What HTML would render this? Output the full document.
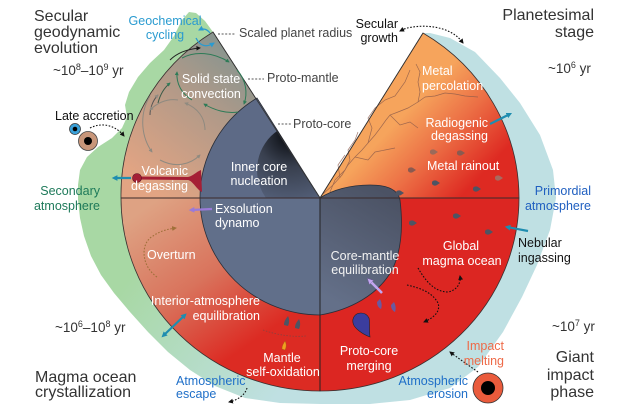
<!DOCTYPE html>
<html><head><meta charset="utf-8"><style>
html,body{margin:0;padding:0;background:#fff;}
svg{display:block;}
text{font-family:"Liberation Sans",Arial,sans-serif;}
.t{font-size:16px;fill:#333;}
.l{font-size:12.5px;}
.w{fill:#fff;}
</style></head><body>
<svg width="625" height="414" viewBox="0 0 625 414" xmlns="http://www.w3.org/2000/svg">
<defs>
<linearGradient id="gAtm" gradientUnits="userSpaceOnUse" x1="120" y1="290" x2="270" y2="405">
 <stop offset="0" stop-color="#a8d8a4"/><stop offset="1" stop-color="#bfe0e2"/>
</linearGradient>
<linearGradient id="gUL" gradientUnits="userSpaceOnUse" x1="235" y1="55" x2="140" y2="180">
 <stop offset="0" stop-color="#8a958f"/><stop offset="0.4" stop-color="#b39a88"/><stop offset="1" stop-color="#e2a483"/>
</linearGradient>
<linearGradient id="gLL" gradientUnits="userSpaceOnUse" x1="150" y1="205" x2="265" y2="370">
 <stop offset="0" stop-color="#dea283"/><stop offset="0.45" stop-color="#d9735c"/><stop offset="0.85" stop-color="#dc2b23"/>
</linearGradient>
<linearGradient id="gUR" gradientUnits="userSpaceOnUse" x1="395" y1="95" x2="490" y2="185">
 <stop offset="0.15" stop-color="#f6a45c"/><stop offset="0.5" stop-color="#ec6f45"/><stop offset="0.9" stop-color="#de2a22"/>
</linearGradient>
<radialGradient id="gIC" gradientUnits="userSpaceOnUse" cx="290" cy="135" r="72">
 <stop offset="0" stop-color="#06080c"/><stop offset="0.45" stop-color="#39404f"/><stop offset="1" stop-color="#56627c"/>
</radialGradient>
<linearGradient id="gPC" gradientUnits="userSpaceOnUse" x1="390" y1="195" x2="330" y2="300">
 <stop offset="0" stop-color="#4b5264"/><stop offset="1" stop-color="#647089"/>
</linearGradient>
<clipPath id="cUL"><path d="M320,198 L257,98 A120,117 0 0,0 200,198 Z"/></clipPath>
<marker id="ak" viewBox="0 0 10 10" refX="8" refY="5" markerWidth="4.5" markerHeight="4.5" orient="auto"><path d="M0,0 L10,5 L0,10 z" fill="#111"/></marker>
<marker id="akb" viewBox="0 0 10 10" refX="8" refY="5" markerWidth="4.5" markerHeight="4.5" orient="auto"><path d="M0,0 L10,5 L0,10 z" fill="#a0703a"/></marker>
<marker id="akg" viewBox="0 0 10 10" refX="8" refY="5" markerWidth="4" markerHeight="4" orient="auto"><path d="M0,0 L10,5 L0,10 z" fill="#2e7b57"/></marker>
<marker id="akgr" viewBox="0 0 10 10" refX="8" refY="5" markerWidth="4" markerHeight="4" orient="auto"><path d="M0,0 L10,5 L0,10 z" fill="#8f8a80"/></marker>
<marker id="akc" viewBox="0 0 10 10" refX="8" refY="5" markerWidth="4" markerHeight="4" orient="auto"><path d="M0,0 L10,5 L0,10 z" fill="#2a9bd0"/></marker>
<marker id="at" viewBox="0 0 10 10" refX="6" refY="5" markerWidth="2.6" markerHeight="2.6" orient="auto"><path d="M0,0 L10,5 L0,10 z" fill="#1e8db0"/></marker>
<marker id="ats" viewBox="0 0 10 10" refX="4" refY="5" markerWidth="2.6" markerHeight="2.6" orient="auto-start-reverse"><path d="M0,0 L10,5 L0,10 z" fill="#1e8db0"/></marker>
<marker id="ap" viewBox="0 0 10 10" refX="6" refY="5" markerWidth="2.6" markerHeight="2.6" orient="auto"><path d="M0,0 L10,5 L0,10 z" fill="#9a7ad8"/></marker>
<marker id="ap2" viewBox="0 0 10 10" refX="6" refY="5" markerWidth="2.4" markerHeight="2.4" orient="auto"><path d="M0,0 L10,5 L0,10 z" fill="#c2a6f0" stroke="#6a5a90" stroke-width="0.8"/></marker>
<path id="drop" d="M-3,0 A3,2.3 0 0,1 2,-2 L5,0 L2,2 A3,2.3 0 0,1 -3,0 Z"/>
</defs>

<!-- atmospheres -->
<polygon fill="url(#gAtm)" points="213,32 205,21 196,13 189,12 182,20 174,36 164,50 150,63 138,77 129,92 125,105 127,117 122,128 112,138 98,147 87,157 80,170 78,185 78,200 80,218 84,236 91,256 101,275 114,293 130,312 148,332 168,352 190,370 215,386 245,398 280,403 320,404 320,198"/>
<polygon fill="#bfe0e3" points="320,404 370,404 410,400 450,388 478,367 503,332 522,297 537,265 550,230 556,198 553,170 540,135 520,103 500,78 475,52 450,38 430,33 423,33 320,198"/>

<!-- mantle sectors -->
<path d="M320,198 L213,32 A199,193 0 0,0 121,198 Z" fill="url(#gUL)" stroke="#3a3030" stroke-width="0.8"/>
<path d="M320,198 L423,33 A199,193 0 0,1 519,198 Z" fill="url(#gUR)" stroke="#3a3030" stroke-width="0.8"/>
<path d="M320,198 L121,198 A199,193 0 0,0 320,391 Z" fill="url(#gLL)" stroke="#3a3030" stroke-width="0.8"/>
<path d="M320,198 L519,198 A199,193 0 0,1 320,391 Z" fill="#dc2622" stroke="#3a3030" stroke-width="0.8"/>

<!-- veins -->
<g fill="none" stroke="#8b5a4a" stroke-width="0.7" opacity="0.8">
<path d="M323,194 L333,185 L342,175 L348,165 L355,157 L362,150 L368,143 L375,135 L381,127 L386,120 L390,115 L398,112 L408,108 L418,102 L425,97"/>
<path d="M418,102 L420,92 L418,82 L420,72 L416,64"/>
<path d="M425,97 L435,96 L445,93 L455,94 L465,96 L478,97"/>
<path d="M330,192 L335,180 L345,170 L350,160 L348,150 L355,140 L358,132"/>
<path d="M355,157 L368,160 L375,152 L385,150 L395,148"/>
<path d="M368,143 L372,128 L368,118 L375,108 L385,100 L395,96 L405,82 L410,70"/>
<path d="M390,115 L400,125 L410,122 L418,128"/>
<path d="M340,178 L338,165 L345,155"/>
</g>

<!-- cores -->
<path d="M320,198 L257,98 A120,117 0 0,0 200,198 Z" fill="#5d6a86" stroke="#2a2e38" stroke-width="0.8"/>
<circle cx="305" cy="170" r="48" fill="url(#gIC)" clip-path="url(#cUL)"/>
<path d="M320,198 L200,198 A120,117 0 0,0 320,315 Z" fill="#616f8a" stroke="#2a2e38" stroke-width="0.8"/>
<path d="M320,198 C332,190 350,185 370,185 C388,185 398,190 400,200 C403,225 402,250 392,270 C378,295 350,310 320,315 Z" fill="url(#gPC)" stroke="#2a2e38" stroke-width="0.8"/>
<line x1="121" y1="198" x2="519" y2="198" stroke="#3a2a2a" stroke-width="0.9"/>
<line x1="320" y1="198" x2="320" y2="391" stroke="#222" stroke-width="0.9"/>
<line x1="320" y1="198" x2="213" y2="32" stroke="#333" stroke-width="0.8"/>
<line x1="320" y1="198" x2="423" y2="33" stroke="#333" stroke-width="0.8"/>

<!-- convection -->
<g fill="none" stroke-width="1">
<path d="M182,58 C195,51 213,52 229,62" stroke="#2e7b57" marker-end="url(#akg)"/>
<path d="M237,70 C246,80 248,93 244,104" stroke="#2e7b57" marker-end="url(#akg)"/>
<path d="M238,112 C227,114 214,110 204,104" stroke="#2e7b57" marker-end="url(#akg)"/>
<path d="M192,100 C182,94 176,84 177,72" stroke="#2e7b57" marker-end="url(#akg)"/>
<path d="M170,60 C178,52 188,49 200,48" stroke="#222" marker-end="url(#ak)"/>
<path d="M158,103 C160,95 164,88 170,83" stroke="#3a5a48" marker-end="url(#akg)"/>
<path d="M150,115 C150,108 153,100 158,95" stroke="#555" marker-end="url(#akgr)"/>
<path d="M150,96 C140,112 140,135 152,152" stroke="#8f8a80" marker-end="url(#akgr)"/>
<path d="M160,160 C175,168 190,165 200,155" stroke="#8f8a80" marker-end="url(#akgr)"/>
<path d="M205,130 C205,118 198,108 185,103" stroke="#8f8a80" marker-end="url(#akgr)"/>
<path d="M178,100 C166,98 156,104 150,110" stroke="#8f8a80" marker-end="url(#akgr)"/>
</g>

<!-- volcanic conduit -->
<path d="M137,176.5 L188,177 C193,176 196,172 201,170 L202,192 C197,190 193,181 188,180 L137,179.5 Z" fill="#a51f35"/>
<circle cx="137" cy="178" r="4.5" fill="#a51f35" stroke="#5a1020" stroke-width="0.6"/>

<!-- droplets -->
<g fill="#4e5463">
<use href="#drop" x="433" y="152" fill="#9a6a5a"/>
<use href="#drop" x="460" y="153" fill="#8a5a50"/>
<use href="#drop" x="411" y="170" fill="#8a5a50"/>
<use href="#drop" x="435" y="183"/>
<use href="#drop" x="476" y="189"/>
<use href="#drop" x="498" y="178" fill="#a86a60"/>
<use href="#drop" x="399" y="193"/>
<use href="#drop" x="412" y="223"/>
<use href="#drop" x="456" y="216"/>
<use href="#drop" x="488" y="232"/>
</g>
<path d="M284,325 C284,320 287,318 288,316 C289,318 290,322 288,326 Z" fill="#4e5463"/>
<path d="M295,328 C295,323 298,321 299,319 C300,321 301,325 299,329 Z" fill="#4e5463"/>
<path d="M282,349 C282,345 284,343 285,341 C286,343 287,346 285,350 Z" fill="#f0a020" stroke="#a06010" stroke-width="0.4"/>
<path d="M377,302 C377,306 379,308 381,309 C382,306 382,303 380,299 Z" fill="#6a5aa0"/>
<path d="M391,305 C391,309 393,311 395,312 C396,309 396,306 394,302 Z" fill="#6a5aa0"/>
<path d="M361,313 C355,313 352,318 353,323 C354,328 362,334 370,337 C369,330 370,322 369,318 C367,314 364,313 361,313 Z" fill="#3b3d9e" stroke="#222" stroke-width="0.6"/>

<!-- teal / purple arrows -->
<line x1="131" y1="178" x2="114" y2="178" stroke="#1e8db0" stroke-width="2.2" marker-end="url(#at)"/>
<line x1="490" y1="124" x2="510" y2="114" stroke="#1e8db0" stroke-width="2.2" marker-end="url(#at)"/>
<line x1="528" y1="231" x2="507" y2="227" stroke="#1e8db0" stroke-width="2.2" marker-end="url(#at)"/>
<line x1="164" y1="335" x2="185" y2="315" stroke="#1e8db0" stroke-width="2.2" marker-start="url(#ats)" marker-end="url(#at)"/>
<line x1="212" y1="209" x2="191" y2="210" stroke="#9a7ad8" stroke-width="2.2" marker-end="url(#ap)"/>
<line x1="382" y1="293" x2="369" y2="280" stroke="#c2a6f0" stroke-width="2.6" marker-end="url(#ap2)"/>

<!-- dotted arrows -->
<g fill="none" stroke="#111" stroke-width="1.1" stroke-dasharray="1.6 1.6">
<path d="M90,128 C104,121 117,127 124,136" marker-end="url(#ak)"/>
<path d="M404,29 C420,24 440,26 452,33 C457,36 460,39 463,43" marker-end="url(#ak)"/>
<path d="M418,268 C425,280 434,292 448,292 C458,290 461,282 460,276" marker-end="url(#ak)"/>
<path d="M407,285 C420,288 432,292 438,303 C441,312 433,318 424,322" marker-end="url(#ak)"/>
<path d="M247,388 C245,395 238,400 229,402" marker-end="url(#ak)"/>
<path d="M478,372 C468,365 458,358 450,352" marker-end="url(#ak)"/>
</g>
<path d="M404,29 L400,31" stroke="#111" stroke-width="1.1" marker-end="url(#ak)"/>
<path d="M157,277 C141,266 140,243 153,236 C160,231 168,229 176,228" fill="none" stroke="#a0703a" stroke-width="1.1" stroke-dasharray="1.6 1.6" marker-end="url(#akb)"/>
<path d="M263,330 C280,336 295,337 306,336" fill="none" stroke="#6a4a4a" stroke-width="0.8" stroke-dasharray="1.5 1.5" opacity="0.7"/>

<!-- geochemical cycling arrows -->
<path d="M210,33 C207,29 203,28 199,30" fill="none" stroke="#2a9bd0" stroke-width="1.3" marker-end="url(#akc)"/>
<path d="M196,38 C200,46 206,48 214,43" fill="none" stroke="#2a9bd0" stroke-width="1.3" marker-end="url(#akc)"/>

<!-- dotted connectors -->
<g stroke="#555" stroke-width="1" stroke-dasharray="2 1.6">
<line x1="218" y1="34" x2="236" y2="34"/>
<line x1="248" y1="79" x2="264" y2="79"/>
<line x1="278" y1="124" x2="291" y2="124"/>
</g>

<!-- impactors -->
<circle cx="75" cy="129" r="5.5" fill="#3aa0d8" stroke="#333" stroke-width="0.7"/>
<circle cx="75" cy="129" r="2.3" fill="#000"/>
<circle cx="88" cy="141" r="9.5" fill="#c8967a" stroke="#444" stroke-width="0.8"/>
<circle cx="88" cy="141" r="4" fill="#000"/>
<circle cx="488" cy="388" r="15" fill="#ea5b3c" stroke="#333" stroke-width="0.8"/>
<circle cx="488" cy="388" r="7" fill="#000"/>

<!-- titles -->
<text class="t" x="34" y="21">Secular</text>
<text class="t" x="34" y="37">geodynamic</text>
<text class="t" x="34" y="53">evolution</text>
<text x="53" y="75" font-size="13.5" fill="#333">~10<tspan dy="-5" font-size="9">8</tspan><tspan dy="5">–10</tspan><tspan dy="-5" font-size="9">9</tspan><tspan dy="5"> yr</tspan></text>
<text class="t" x="594" y="20" text-anchor="end">Planetesimal</text>
<text class="t" x="594" y="37" text-anchor="end">stage</text>
<text x="548" y="73" font-size="13.5" fill="#333">~10<tspan dy="-5" font-size="9">6</tspan><tspan dy="5"> yr</tspan></text>
<text class="t" x="35" y="382">Magma ocean</text>
<text class="t" x="35" y="397">crystallization</text>
<text x="55" y="332" font-size="13.5" fill="#333">~10<tspan dy="-5" font-size="9">6</tspan><tspan dy="5">–10</tspan><tspan dy="-5" font-size="9">8</tspan><tspan dy="5"> yr</tspan></text>
<text class="t" x="594" y="362" text-anchor="end">Giant</text>
<text class="t" x="594" y="380" text-anchor="end">impact</text>
<text class="t" x="594" y="397" text-anchor="end">phase</text>
<text x="552" y="331" font-size="13.5" fill="#333">~10<tspan dy="-5" font-size="9">7</tspan><tspan dy="5"> yr</tspan></text>

<!-- labels -->
<g class="l">
<text x="165" y="25" text-anchor="middle" fill="#2a9bd0" font-size="12.5">Geochemical</text>
<text x="165" y="39" text-anchor="middle" fill="#2a9bd0" font-size="12.5">cycling</text>
<text x="239" y="37" fill="#444" font-size="12.5">Scaled planet radius</text>
<text x="267" y="82" fill="#444" font-size="12.5">Proto-mantle</text>
<text x="293" y="128" fill="#444" font-size="12.5">Proto-core</text>
<text x="398" y="28" text-anchor="end" fill="#111" font-size="12.5">Secular</text>
<text x="398" y="42" text-anchor="end" fill="#111" font-size="12.5">growth</text>
<text x="211" y="83" text-anchor="middle" class="w" font-size="12.5">Solid state</text>
<text x="211" y="98" text-anchor="middle" class="w" font-size="12.5">convection</text>
<text x="55" y="120" fill="#111" font-size="12.5">Late accretion</text>
<text x="188" y="175" text-anchor="end" class="w" font-size="12.5">Volcanic</text>
<text x="188" y="190" text-anchor="end" class="w" font-size="12.5">degassing</text>
<text x="100" y="195" text-anchor="end" fill="#1e7a5a" font-size="12.5">Secondary</text>
<text x="100" y="210" text-anchor="end" fill="#1e7a5a" font-size="12.5">atmosphere</text>
<text x="259" y="171" text-anchor="middle" class="w" font-size="12.5">Inner core</text>
<text x="259" y="185" text-anchor="middle" class="w" font-size="12.5">nucleation</text>
<text x="215" y="213" class="w" font-size="12.5">Exsolution</text>
<text x="215" y="227" class="w" font-size="12.5">dynamo</text>
<text x="147" y="259" class="w" font-size="12.5">Overturn</text>
<text x="260" y="305" text-anchor="end" class="w" font-size="12.5">Interior-atmosphere</text>
<text x="260" y="320" text-anchor="end" class="w" font-size="12.5">equilibration</text>
<text x="282" y="362" text-anchor="middle" class="w" font-size="12.5">Mantle</text>
<text x="283" y="376" text-anchor="middle" class="w" font-size="12.5">self-oxidation</text>
<text x="176" y="385" fill="#1f6fc8" font-size="12.5">Atmospheric</text>
<text x="176" y="398" fill="#1f6fc8" font-size="12.5">escape</text>
<text x="369" y="355" text-anchor="middle" class="w" font-size="12.5">Proto-core</text>
<text x="369" y="370" text-anchor="middle" class="w" font-size="12.5">merging</text>
<text x="365" y="260" text-anchor="middle" fill="#f2f2f2" font-size="12.5">Core-mantle</text>
<text x="365" y="274" text-anchor="middle" fill="#f2f2f2" font-size="12.5">equilibration</text>
<text x="461" y="250" text-anchor="middle" class="w" font-size="12.5">Global</text>
<text x="462" y="265" text-anchor="middle" class="w" font-size="12.5">magma ocean</text>
<text x="518" y="247" fill="#111" font-size="12.5">Nebular</text>
<text x="518" y="262" fill="#111" font-size="12.5">ingassing</text>
<text x="591" y="195" text-anchor="end" fill="#1f5fc0" font-size="12.5">Primordial</text>
<text x="591" y="210" text-anchor="end" fill="#1f5fc0" font-size="12.5">atmosphere</text>
<text x="504" y="350" text-anchor="end" fill="#ee6a48" font-size="12.5">Impact</text>
<text x="504" y="365" text-anchor="end" fill="#ee6a48" font-size="12.5">melting</text>
<text x="468" y="385" text-anchor="end" fill="#1f6fc8" font-size="12.5">Atmospheric</text>
<text x="468" y="398" text-anchor="end" fill="#1f6fc8" font-size="12.5">erosion</text>
<text x="422" y="75" class="w" font-size="12.5">Metal</text>
<text x="422" y="90" class="w" font-size="12.5">percolation</text>
<text x="488" y="127" text-anchor="end" class="w" font-size="12.5">Radiogenic</text>
<text x="488" y="140" text-anchor="end" class="w" font-size="12.5">degassing</text>
<text x="427" y="170" class="w" font-size="12.5">Metal rainout</text>
</g>
</svg>
</body></html>
